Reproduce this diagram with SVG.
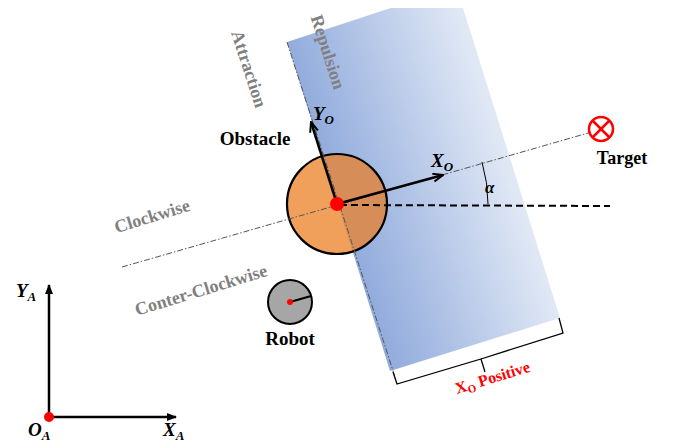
<svg xmlns="http://www.w3.org/2000/svg" width="675" height="447" viewBox="0 0 675 447">
<style>
.lbl{font-family:"Liberation Serif","Times New Roman",serif;font-weight:bold;fill:#000}
.gray{font-family:"Liberation Serif","Times New Roman",serif;font-weight:bold;fill:#808080;font-size:18px}
.ital{font-family:"Liberation Serif","Times New Roman",serif;font-weight:bold;font-style:italic;fill:#000}
.dashdot{stroke:#555;stroke-width:1;fill:none;stroke-dasharray:6 2 1.5 2}
</style>
<defs>
<linearGradient id="blueGrad" gradientUnits="userSpaceOnUse" x1="330" y1="210" x2="505" y2="153">
<stop offset="0" stop-color="#8DA8DB"/>
<stop offset="1" stop-color="#E0E8F5"/>
</linearGradient>
<clipPath id="zoneClip"><polygon points="287,42 391,8 463,8 560,318 390,371"/></clipPath>
<marker id="openArrow" viewBox="0 0 12 10" refX="11" refY="5" markerWidth="12" markerHeight="10" markerUnits="userSpaceOnUse" orient="auto">
<path d="M1,1 L11,5 L1,9" fill="none" stroke="#000" stroke-width="2"/>
</marker>
<marker id="solidArrow" viewBox="0 0 10 8" refX="9" refY="4" markerWidth="10" markerHeight="8" markerUnits="userSpaceOnUse" orient="auto">
<path d="M0,0 L10,4 L0,8 Z" fill="#000"/>
</marker>
</defs>
<rect width="675" height="447" fill="#fff"/>

<g id="repulsion-zone">
<polygon points="287,42 391,8 463,8 560,318 390,371" fill="url(#blueGrad)"/>
</g>

<g id="obstacle">
<circle cx="337" cy="204" r="50" fill="#F0A05A"/>
<circle cx="337" cy="204" r="50" fill="#D68D58" clip-path="url(#zoneClip)"/>
<circle cx="337" cy="204" r="50" fill="none" stroke="#000" stroke-width="2.2"/>
<text class="lbl" x="255" y="145" font-size="19" text-anchor="middle">Obstacle</text>
</g>

<g id="connectors">
<line class="dashdot" x1="287" y1="42" x2="396" y2="380" stroke-dasharray="5 2"/>
<line class="dashdot" x1="122" y1="267" x2="602" y2="129"/>
<line x1="340" y1="205" x2="610" y2="206" stroke="#000" stroke-width="2" stroke-dasharray="7 4"/>
<path d="M488,204 A151,151 0 0 0 482,162" fill="none" stroke="#000" stroke-width="1"/>
<line x1="337" y1="204" x2="443" y2="175" stroke="#000" stroke-width="2.5" marker-end="url(#openArrow)"/>
<line x1="337" y1="204" x2="311" y2="122" stroke="#000" stroke-width="2.5" marker-end="url(#openArrow)"/>
<path d="M393,372 L397,384 L481,359 L485,372 M481,359 L563,333 L559,318" fill="none" stroke="#000" stroke-width="1.3"/>
<line x1="49" y1="417" x2="49" y2="285" stroke="#000" stroke-width="2.5" marker-end="url(#solidArrow)"/>
<line x1="49" y1="417" x2="176" y2="417" stroke="#000" stroke-width="2.5" marker-end="url(#solidArrow)"/>
</g>

<g id="obstacle-center">
<circle cx="337" cy="204" r="7" fill="#FF0000"/>
</g>

<g id="robot">
<circle cx="290" cy="302" r="22" fill="#A6A6A6" stroke="#000" stroke-width="2"/>
<line x1="290" y1="302" x2="311" y2="296" stroke="#000" stroke-width="2"/>
<circle cx="290" cy="302" r="3" fill="#FF0000"/>
<text class="lbl" x="290" y="345" font-size="19" text-anchor="middle">Robot</text>
</g>

<g id="target">
<circle cx="601" cy="129" r="12" fill="#fff" stroke="#FF0000" stroke-width="2.5"/>
<line x1="592.5" y1="120.5" x2="609.5" y2="137.5" stroke="#FF0000" stroke-width="2.5"/>
<line x1="609.5" y1="120.5" x2="592.5" y2="137.5" stroke="#FF0000" stroke-width="2.5"/>
<text class="lbl" x="622" y="164" font-size="18" text-anchor="middle">Target</text>
</g>

<g id="origin">
<circle cx="49" cy="417" r="5" fill="#FF0000"/>
</g>

<g id="labels">
<text class="gray" transform="translate(249,69) rotate(72)" text-anchor="middle" y="6">Attraction</text>
<text class="gray" transform="translate(328,52) rotate(72)" text-anchor="middle" y="6">Repulsion</text>
<text class="gray" transform="translate(152,216) rotate(-17)" text-anchor="middle" y="6">Clockwise</text>
<text class="gray" transform="translate(201,290) rotate(-17)" text-anchor="middle" y="6">Conter-Clockwise</text>
<text class="ital" x="313" y="120" font-size="19">Y<tspan font-size="13" dy="4">O</tspan></text>
<text class="ital" x="431" y="167" font-size="19">X<tspan font-size="13" dy="4">O</tspan></text>
<text class="ital" x="485" y="193" font-size="17">α</text>
<text class="ital" x="16" y="297" font-size="19">Y<tspan font-size="13" dy="4">A</tspan></text>
<text class="ital" x="28" y="436" font-size="19">O<tspan font-size="13" dy="4">A</tspan></text>
<text class="ital" x="163" y="436" font-size="19">X<tspan font-size="13" dy="4">A</tspan></text>
<text transform="translate(457,394) rotate(-17)" font-family="Liberation Serif, Times New Roman, serif" font-weight="bold" fill="#FF0000" font-size="16">X<tspan font-size="11" dy="3">O</tspan><tspan dy="-3"> Positive</tspan></text>
</g>
</svg>
